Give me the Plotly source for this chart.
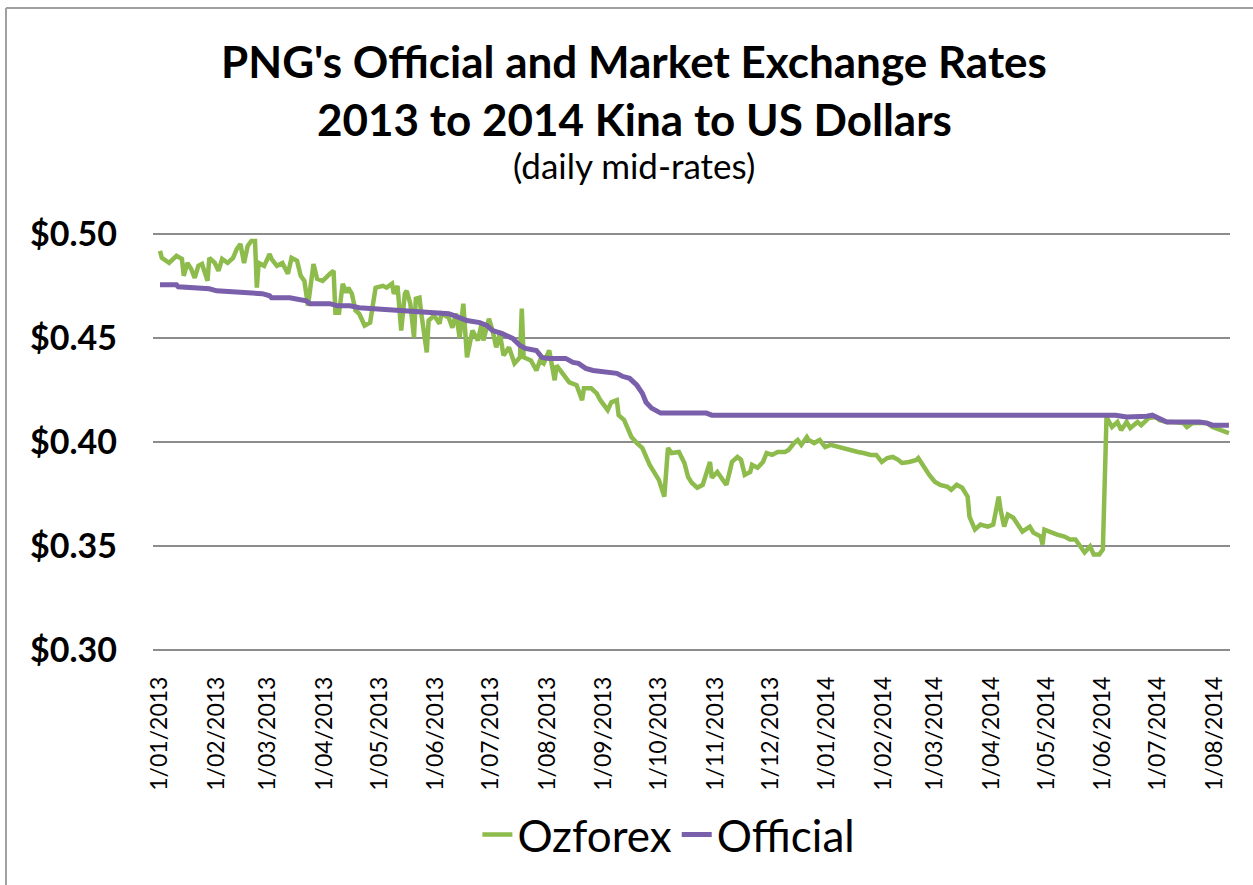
import plotly.graph_objects as go

# ---------------- data ----------------
ozforex = [
    ("2013-01-01", 0.4919), ("2013-01-02", 0.4885), ("2013-01-06", 0.4861), ("2013-01-10", 0.4895),
    ("2013-01-13", 0.4880), ("2013-01-14", 0.4799), ("2013-01-16", 0.4861), ("2013-01-18", 0.4833),
    ("2013-01-20", 0.4789), ("2013-01-22", 0.4847), ("2013-01-24", 0.4856), ("2013-01-25", 0.4833),
    ("2013-01-27", 0.4775), ("2013-01-28", 0.4885), ("2013-01-31", 0.4861),
    ("2013-02-02", 0.4823), ("2013-02-04", 0.4880), ("2013-02-07", 0.4861), ("2013-02-10", 0.4885),
    ("2013-02-12", 0.4928), ("2013-02-14", 0.4952), ("2013-02-16", 0.4861), ("2013-02-18", 0.4943),
    ("2013-02-20", 0.4967), ("2013-02-22", 0.4967), ("2013-02-23", 0.4742), ("2013-02-24", 0.4861),
    ("2013-02-27", 0.4847),
    ("2013-03-02", 0.4904), ("2013-03-03", 0.4880), ("2013-03-06", 0.4847), ("2013-03-09", 0.4861),
    ("2013-03-12", 0.4809), ("2013-03-14", 0.4885), ("2013-03-17", 0.4871), ("2013-03-19", 0.4799),
    ("2013-03-21", 0.4775), ("2013-03-23", 0.4656), ("2013-03-25", 0.4775), ("2013-03-26", 0.4856),
    ("2013-03-28", 0.4785), ("2013-03-31", 0.4775),
    ("2013-04-04", 0.4809), ("2013-04-06", 0.4823), ("2013-04-07", 0.4622), ("2013-04-09", 0.4622),
    ("2013-04-11", 0.4761), ("2013-04-13", 0.4718), ("2013-04-14", 0.4742), ("2013-04-16", 0.4713),
    ("2013-04-18", 0.4632), ("2013-04-20", 0.4617), ("2013-04-23", 0.4560), ("2013-04-26", 0.4574),
    ("2013-04-27", 0.4632), ("2013-04-29", 0.4742),
    ("2013-05-03", 0.4751), ("2013-05-05", 0.4742), ("2013-05-08", 0.4761), ("2013-05-09", 0.4713),
    ("2013-05-11", 0.4751), ("2013-05-13", 0.4536), ("2013-05-15", 0.4713), ("2013-05-16", 0.4727),
    ("2013-05-18", 0.4665), ("2013-05-20", 0.4502), ("2013-05-21", 0.4689), ("2013-05-23", 0.4694),
    ("2013-05-24", 0.4617), ("2013-05-27", 0.4431), ("2013-05-28", 0.4584), ("2013-05-31", 0.4608),
    ("2013-06-03", 0.4569), ("2013-06-04", 0.4617), ("2013-06-08", 0.4598), ("2013-06-10", 0.4550),
    ("2013-06-12", 0.4617), ("2013-06-14", 0.4502), ("2013-06-16", 0.4665), ("2013-06-18", 0.4407),
    ("2013-06-21", 0.4536), ("2013-06-24", 0.4488), ("2013-06-26", 0.4569), ("2013-06-27", 0.4488),
    ("2013-06-30", 0.4593),
    ("2013-07-02", 0.4536), ("2013-07-04", 0.4455), ("2013-07-06", 0.4522), ("2013-07-08", 0.4416),
    ("2013-07-11", 0.4455), ("2013-07-14", 0.4378), ("2013-07-17", 0.4407), ("2013-07-18", 0.4641),
    ("2013-07-19", 0.4407), ("2013-07-23", 0.4392), ("2013-07-26", 0.4344), ("2013-07-28", 0.4392),
    ("2013-07-30", 0.4378),
    ("2013-08-02", 0.4440), ("2013-08-05", 0.4297), ("2013-08-06", 0.4368), ("2013-08-09", 0.4335),
    ("2013-08-13", 0.4287), ("2013-08-17", 0.4273), ("2013-08-20", 0.4201), ("2013-08-21", 0.4258),
    ("2013-08-25", 0.4258), ("2013-08-28", 0.4234), ("2013-08-30", 0.4201),
    ("2013-09-03", 0.4153), ("2013-09-05", 0.4191), ("2013-09-08", 0.4201), ("2013-09-09", 0.4129),
    ("2013-09-12", 0.4105), ("2013-09-14", 0.4057), ("2013-09-16", 0.4024), ("2013-09-19", 0.3995),
    ("2013-09-22", 0.3971), ("2013-09-26", 0.3890),
    ("2013-10-01", 0.3818), ("2013-10-04", 0.3738), ("2013-10-06", 0.3971), ("2013-10-08", 0.3947),
    ("2013-10-12", 0.3952), ("2013-10-15", 0.3899), ("2013-10-17", 0.3832), ("2013-10-19", 0.3804),
    ("2013-10-22", 0.3780), ("2013-10-25", 0.3794), ("2013-10-27", 0.3852), ("2013-10-29", 0.3904),
    ("2013-10-30", 0.3828),
    ("2013-11-02", 0.3856), ("2013-11-05", 0.3818), ("2013-11-07", 0.3794), ("2013-11-09", 0.3866),
    ("2013-11-10", 0.3904), ("2013-11-13", 0.3928), ("2013-11-15", 0.3914), ("2013-11-17", 0.3842),
    ("2013-11-20", 0.3856), ("2013-11-21", 0.3890), ("2013-11-24", 0.3876), ("2013-11-27", 0.3904),
    ("2013-11-29", 0.3947),
    ("2013-12-02", 0.3938), ("2013-12-05", 0.3952), ("2013-12-09", 0.3952), ("2013-12-11", 0.3962),
    ("2013-12-14", 0.3995), ("2013-12-16", 0.4010), ("2013-12-18", 0.3986), ("2013-12-21", 0.4024),
    ("2013-12-22", 0.4010), ("2013-12-25", 0.3995), ("2013-12-28", 0.4010), ("2013-12-31", 0.3976),
    ("2014-01-03", 0.3986), ("2014-01-07", 0.3976), ("2014-01-10", 0.3971), ("2014-01-14", 0.3962),
    ("2014-01-18", 0.3952), ("2014-01-21", 0.3947), ("2014-01-25", 0.3938), ("2014-01-28", 0.3938),
    ("2014-01-31", 0.3904),
    ("2014-02-03", 0.3923), ("2014-02-06", 0.3928), ("2014-02-09", 0.3914), ("2014-02-11", 0.3899),
    ("2014-02-15", 0.3904), ("2014-02-19", 0.3914), ("2014-02-20", 0.3923), ("2014-02-23", 0.3880),
    ("2014-02-26", 0.3842),
    ("2014-03-01", 0.3809), ("2014-03-04", 0.3794), ("2014-03-08", 0.3785), ("2014-03-10", 0.3770),
    ("2014-03-13", 0.3794), ("2014-03-16", 0.3780), ("2014-03-19", 0.3737), ("2014-03-20", 0.3641),
    ("2014-03-23", 0.3579), ("2014-03-26", 0.3603), ("2014-03-30", 0.3593),
    ("2014-04-02", 0.3603), ("2014-04-05", 0.3737), ("2014-04-06", 0.3675), ("2014-04-08", 0.3593),
    ("2014-04-10", 0.3651), ("2014-04-13", 0.3636), ("2014-04-15", 0.3612), ("2014-04-18", 0.3569),
    ("2014-04-22", 0.3593), ("2014-04-24", 0.3564), ("2014-04-28", 0.3545), ("2014-04-29", 0.3507),
    ("2014-04-30", 0.3579),
    ("2014-05-04", 0.3564), ("2014-05-07", 0.3555), ("2014-05-11", 0.3545), ("2014-05-14", 0.3531),
    ("2014-05-17", 0.3531), ("2014-05-20", 0.3498), ("2014-05-22", 0.3469), ("2014-05-25", 0.3498),
    ("2014-05-27", 0.3459), ("2014-05-30", 0.3459),
    ("2014-06-01", 0.3483), ("2014-06-03", 0.4120), ("2014-06-06", 0.4072), ("2014-06-09", 0.4096),
    ("2014-06-11", 0.4057), ("2014-06-14", 0.4096), ("2014-06-16", 0.4067), ("2014-06-20", 0.4096),
    ("2014-06-22", 0.4081), ("2014-06-26", 0.4115), ("2014-06-30", 0.4120),
    ("2014-07-02", 0.4105), ("2014-07-06", 0.4096), ("2014-07-09", 0.4096), ("2014-07-15", 0.4091),
    ("2014-07-17", 0.4072), ("2014-07-20", 0.4091), ("2014-07-24", 0.4091), ("2014-07-28", 0.4091),
    ("2014-07-31", 0.4072),
    ("2014-08-04", 0.4057), ("2014-08-07", 0.4048), ("2014-08-09", 0.4043),
]

official = [
    ("2013-01-01", 0.4756), ("2013-01-10", 0.4756), ("2013-01-11", 0.4746), ("2013-01-28", 0.4737),
    ("2013-02-01", 0.4727), ("2013-02-13", 0.4718), ("2013-02-18", 0.4713), ("2013-02-26", 0.4713),
    ("2013-03-02", 0.4703), ("2013-03-03", 0.4694), ("2013-03-13", 0.4694), ("2013-03-17", 0.4689),
    ("2013-03-22", 0.4679), ("2013-03-24", 0.4665), ("2013-04-04", 0.4665), ("2013-04-08", 0.4655),
    ("2013-04-15", 0.4655), ("2013-04-20", 0.4646), ("2013-04-27", 0.4641), ("2013-05-12", 0.4632),
    ("2013-05-30", 0.4622), ("2013-06-08", 0.4617), ("2013-06-11", 0.4608), ("2013-06-15", 0.4593),
    ("2013-06-18", 0.4584), ("2013-06-25", 0.4574), ("2013-06-29", 0.4560), ("2013-07-02", 0.4536),
    ("2013-07-07", 0.4522), ("2013-07-13", 0.4498), ("2013-07-17", 0.4464), ("2013-07-20", 0.4450),
    ("2013-07-26", 0.4440), ("2013-07-29", 0.4407), ("2013-08-02", 0.4402), ("2013-08-11", 0.4402),
    ("2013-08-15", 0.4383), ("2013-08-18", 0.4378), ("2013-08-22", 0.4354), ("2013-08-26", 0.4344),
    ("2013-09-02", 0.4335), ("2013-09-08", 0.4330), ("2013-09-11", 0.4316), ("2013-09-15", 0.4306),
    ("2013-09-19", 0.4273), ("2013-09-22", 0.4234), ("2013-09-24", 0.4191), ("2013-09-27", 0.4163),
    ("2013-10-02", 0.4139), ("2013-10-27", 0.4139), ("2013-10-30", 0.4129), ("2014-06-08", 0.4129),
    ("2014-06-14", 0.4120), ("2014-06-17", 0.4120), ("2014-06-25", 0.4124), ("2014-06-28", 0.4129),
    ("2014-07-02", 0.4115), ("2014-07-06", 0.4096), ("2014-07-24", 0.4096), ("2014-07-28", 0.4091),
    ("2014-07-31", 0.4081), ("2014-08-09", 0.4081),
]

tick_labels = [
    "1/01/2013", "1/02/2013", "1/03/2013", "1/04/2013", "1/05/2013", "1/06/2013", "1/07/2013",
    "1/08/2013", "1/09/2013", "1/10/2013", "1/11/2013", "1/12/2013", "1/01/2014", "1/02/2014",
    "1/03/2014", "1/04/2014", "1/05/2014", "1/06/2014", "1/07/2014", "1/08/2014",
]
y_ticks = [0.30, 0.35, 0.40, 0.45, 0.50]

title_line1 = "PNG's Official and Market Exchange Rates"
title_line2 = "2013 to 2014 Kina to US Dollars"
subtitle = "(daily mid-rates)"

# ---------------- styling ----------------
GREEN = "#8DBB4C"
PURPLE = "#7A5FAB"
GRID = "#8C8C8C"
FONT = "Lato"

oz_dates = [d for d, _ in ozforex]
oz_rates = [v for _, v in ozforex]
off_dates = [d for d, _ in official]
off_rates = [v for _, v in official]
tick_dates = ["{}-{}-01".format(t.split("/")[2], t.split("/")[1]) for t in tick_labels]

fig = go.Figure()
fig.add_trace(go.Scatter(x=oz_dates, y=oz_rates, mode="lines", name="Ozforex",
                         line=dict(color=GREEN, width=4.5)))
fig.add_trace(go.Scatter(x=off_dates, y=off_rates, mode="lines", name="Official",
                         line=dict(color=PURPLE, width=5)))

fig.update_layout(
    width=1253, height=885,
    margin=dict(l=153, r=23, t=233, b=234, pad=0),
    paper_bgcolor="white", plot_bgcolor="white",
    font=dict(family=FONT, color="black"),
    showlegend=True,
    legend=dict(orientation="h", x=0.479, xanchor="center", y=-0.44, yanchor="middle",
                font=dict(size=44, family=FONT, color="black"), bgcolor="rgba(0,0,0,0)"),
)

fig.update_xaxes(
    type="date", range=["2012-12-28 04:00", "2014-08-09 14:00"],
    tickmode="array", tickvals=tick_dates, ticktext=tick_labels, tickangle=-90,
    tickfont=dict(size=23, family=FONT, color="black"),
    showgrid=False, zeroline=False, showline=False,
    ticks="", ticklabelstandoff=20,
)
fig.update_yaxes(
    range=[0.2995, 0.5005], tickmode="array", tickvals=y_ticks, tickformat="$.2f",
    tickfont=dict(size=34, family=FONT, color="black", weight="bold"),
    showgrid=True, gridcolor=GRID, gridwidth=2, zeroline=False, showline=False,
    ticks="", ticklabelstandoff=35,
)

fig.add_annotation(text="<b>" + title_line1 + "</b>", xref="paper", yref="paper",
                   x=0.447, y=1.412, xanchor="center", yanchor="middle", showarrow=False,
                   font=dict(size=44, family=FONT, color="black"))
fig.add_annotation(text="<b>" + title_line2 + "</b>", xref="paper", yref="paper",
                   x=0.447, y=1.272, xanchor="center", yanchor="middle", showarrow=False,
                   font=dict(size=44, family=FONT, color="black"))
fig.add_annotation(text=subtitle, xref="paper", yref="paper",
                   x=0.447, y=1.163, xanchor="center", yanchor="middle", showarrow=False,
                   font=dict(size=35, family=FONT, color="black"))

# chart-area frame (left and top edges visible)
fig.add_shape(type="line", xref="paper", yref="paper", x0=-0.1365, x1=-0.1365, y0=-0.60, y1=1.5383,
              line=dict(color="#A0A0A0", width=2))
fig.add_shape(type="line", xref="paper", yref="paper", x0=-0.1365, x1=1.05, y0=1.5383, y1=1.5383,
              line=dict(color="#A0A0A0", width=2))

fig.write_html("out.html", config={"displayModeBar": False},
               post_script="document.body.style.margin='0';")
